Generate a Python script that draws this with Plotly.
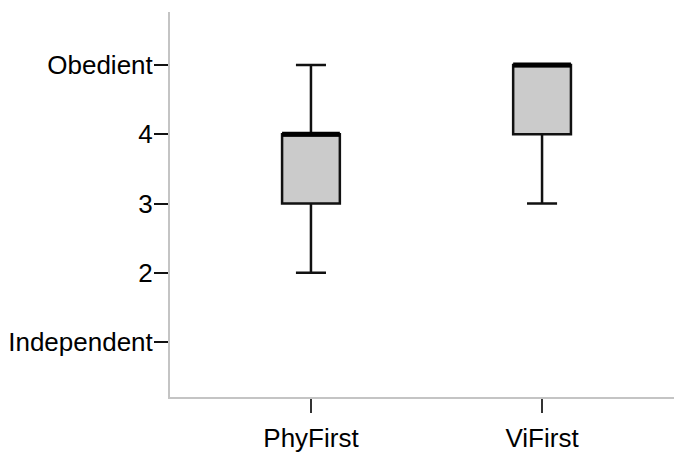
import plotly.graph_objects as go

# Data
categories = ["PhyFirst", "ViFirst"]
lower_whisker = [2, 3]
q1_values = [3, 4]
median_values = [4, 5]
q3_values = [4, 5]
upper_whisker = [5, 5]

y_tick_values = [1, 2, 3, 4, 5]
y_tick_labels = ["Independent", "2", "3", "4", "Obedient"]

positions = list(range(len(categories)))
box_width = 0.25
half = box_width / 2

fig = go.Figure()

fig.add_trace(go.Box(
    x=positions,
    q1=q1_values,
    median=median_values,
    q3=q3_values,
    lowerfence=lower_whisker,
    upperfence=upper_whisker,
    width=box_width,
    whiskerwidth=0.52,
    fillcolor="#cbcbcb",
    line=dict(color="#111111", width=2.5),
    boxpoints=False,
    showlegend=False,
    hoverinfo="skip",
))

# thick median bars
mx, my = [], []
for p, m in zip(positions, median_values):
    mx += [p - half, p + half, None]
    my += [m, m, None]
fig.add_trace(go.Scatter(
    x=mx, y=my, mode="lines",
    line=dict(color="#000000", width=5),
    showlegend=False, hoverinfo="skip",
))

fig.update_layout(
    width=674, height=453,
    margin=dict(l=170, r=0, t=12, b=41),
    paper_bgcolor="white",
    plot_bgcolor="white",
    font=dict(family="Liberation Sans, Arial, sans-serif", size=26, color="#000000"),
    showlegend=False,
)

fig.update_xaxes(
    range=[-0.61, 1.571],
    tickvals=positions,
    ticktext=categories,
    showgrid=False, zeroline=False,
    showline=True, linecolor="#c4c4c4", linewidth=2,
    ticks="outside", ticklen=14, tickwidth=1.5, tickcolor="#333333",
    ticklabelstandoff=3,
)
fig.update_yaxes(
    range=[0.208, 5.764],
    tickvals=y_tick_values,
    ticktext=y_tick_labels,
    showgrid=False, zeroline=False,
    showline=True, linecolor="#c4c4c4", linewidth=2,
    ticks="outside", ticklen=14, tickwidth=1.5, tickcolor="#111111",
    ticklabelstandoff=-4,
)

fig.write_html(
    "out.html",
    config={"displayModeBar": False},
    post_script="document.body.style.margin='0';document.body.style.overflow='hidden';",
)
